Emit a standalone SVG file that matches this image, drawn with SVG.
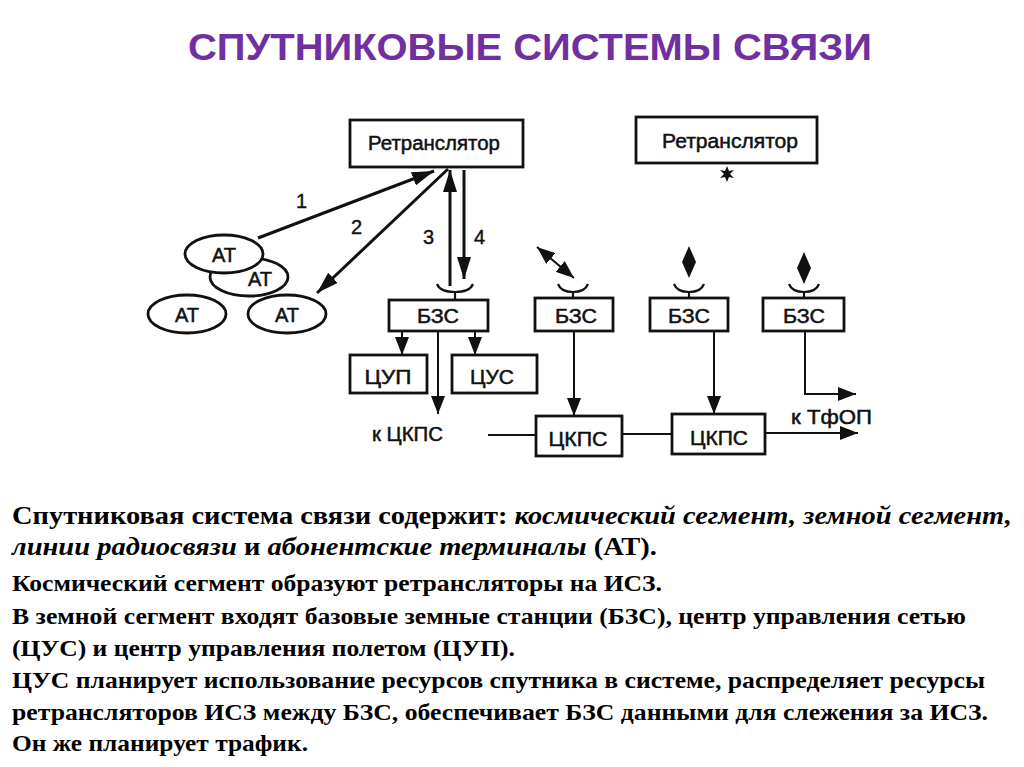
<svg xmlns="http://www.w3.org/2000/svg" width="1024" height="767" viewBox="0 0 1024 767">
<style>
.box{fill:#fff;stroke:#111;stroke-width:2.8}
.ell{fill:#fff;stroke:#111;stroke-width:2.8}
.lbl{font-family:"Liberation Sans",Arial,sans-serif;font-size:20px;fill:#111;stroke:#111;stroke-width:0.5}
.num{font-family:"Liberation Sans",Arial,sans-serif;font-size:20px;fill:#111;stroke:#111;stroke-width:0.4}
.ln{fill:none;stroke:#111;stroke-width:2}
.lnb{fill:none;stroke:#111;stroke-width:3}
.dish{fill:none;stroke:#111;stroke-width:2.2}
.body{font-family:"Liberation Serif","Times New Roman",serif;font-weight:bold;fill:#000}
.it{font-style:italic}
</style>
<defs>
<marker id="big" viewBox="0 0 22 14" markerWidth="22" markerHeight="14" refX="22" refY="7" orient="auto-start-reverse" markerUnits="userSpaceOnUse">
<path d="M0,0 L22,7 L0,14 z" fill="#111"/>
</marker>
<marker id="sm" viewBox="0 0 18 14" markerWidth="18" markerHeight="14" refX="18" refY="7" orient="auto-start-reverse" markerUnits="userSpaceOnUse">
<path d="M0,0 L18,7 L0,14 z" fill="#111"/>
</marker>
</defs>
<rect width="1024" height="767" fill="#fff"/>

<text x="188" y="60" font-family="'Liberation Sans',Arial,sans-serif" font-weight="bold" font-size="37" fill="#7030A0" textLength="684" lengthAdjust="spacingAndGlyphs">СПУТНИКОВЫЕ СИСТЕМЫ СВЯЗИ</text>

<g id="connectors">
<line class="lnb" x1="258" y1="238" x2="434" y2="171" marker-end="url(#big)"/>
<line class="lnb" x1="448" y1="169" x2="317" y2="293" marker-end="url(#big)"/>
<line class="lnb" x1="450" y1="286" x2="450" y2="170" marker-end="url(#big)"/>
<line class="lnb" x1="464" y1="170" x2="464" y2="279" marker-end="url(#big)"/>
<line class="ln" x1="402" y1="331" x2="402" y2="355" marker-end="url(#sm)"/>
<line class="ln" x1="475" y1="331" x2="475" y2="355" marker-end="url(#sm)"/>
<line class="ln" x1="438" y1="331" x2="438" y2="414" marker-end="url(#sm)"/>
<line class="ln" x1="537" y1="247" x2="574" y2="278" marker-start="url(#sm)" marker-end="url(#sm)"/>
<line class="ln" x1="574" y1="331" x2="574" y2="416" marker-end="url(#sm)"/>
<line class="ln" x1="714" y1="331" x2="714" y2="414" marker-end="url(#sm)"/>
<polyline class="ln" points="805,331 805,394 856,394" marker-end="url(#sm)"/>
<line class="ln" x1="488" y1="435" x2="536" y2="435"/>
<line class="ln" x1="622" y1="434" x2="672" y2="434"/>
<line class="ln" x1="765" y1="433" x2="858" y2="433" marker-end="url(#sm)"/>
<polygon points="689,246 696,262 689,278 682,262" fill="#111"/>
<polygon points="804,252 811,268 804,284 797,268" fill="#111"/>
<path d="M727,166 L729,171 L734,170 L730,174 L734,178 L729,177 L727,182 L725,177 L720,178 L724,174 L720,170 L725,171 z" fill="#111"/>
<text class="num" x="296" y="208">1</text>
<text class="num" x="351" y="234">2</text>
<text class="num" x="423" y="244">3</text>
<text class="num" x="474" y="244">4</text>
<text class="lbl" x="372" y="441" font-size="21" textLength="71" lengthAdjust="spacingAndGlyphs">к ЦКПС</text>
<text class="lbl" x="791" y="424" font-size="21" textLength="81" lengthAdjust="spacingAndGlyphs">к ТфОП</text>
</g>

<g id="retr1">
<rect class="box" x="350" y="120" width="173" height="47"/>
<text class="lbl" x="368" y="150" font-size="19" stroke-width="0.3" textLength="132" lengthAdjust="spacingAndGlyphs">Ретранслятор</text>
</g>
<g id="retr2">
<rect class="box" x="636" y="117" width="181" height="46"/>
<text class="lbl" x="662" y="148" font-size="19" stroke-width="0.3" textLength="136" lengthAdjust="spacingAndGlyphs">Ретранслятор</text>
</g>

<g id="at2"><ellipse class="ell" cx="249" cy="277" rx="39" ry="19"/><text class="lbl" x="260" y="286" font-size="21" text-anchor="middle">АТ</text></g>
<g id="at1"><ellipse class="ell" cx="224" cy="254" rx="39" ry="19"/><text class="lbl" x="224" y="262" font-size="21" text-anchor="middle">АТ</text></g>
<g id="at4"><ellipse class="ell" cx="287" cy="314" rx="39" ry="19"/><text class="lbl" x="287" y="322" font-size="21" text-anchor="middle">АТ</text></g>
<g id="at3"><ellipse class="ell" cx="187" cy="314" rx="39" ry="19"/><text class="lbl" x="187" y="322" font-size="21" text-anchor="middle">АТ</text></g>

<g id="bzs1">
<path class="dish" d="M437,284 Q440,292 455,292 Q470,292 473,284 M455,292 L455,300"/>
<rect class="box" x="389" y="300" width="99" height="31"/>
<text class="lbl" x="438" y="323" font-size="21" text-anchor="middle" textLength="42" lengthAdjust="spacingAndGlyphs">БЗС</text>
</g>
<g id="bzs2">
<path class="dish" d="M558,284 Q561,292 573,292 Q585,292 588,284 M573,292 L573,298"/>
<rect class="box" x="535" y="298" width="78" height="33"/>
<text class="lbl" x="576" y="323" font-size="21" text-anchor="middle" textLength="42" lengthAdjust="spacingAndGlyphs">БЗС</text>
</g>
<g id="bzs3">
<path class="dish" d="M674,284 Q677,292 689,292 Q701,292 704,284 M689,292 L689,298"/>
<rect class="box" x="650" y="298" width="78" height="33"/>
<text class="lbl" x="689" y="323" font-size="21" text-anchor="middle" textLength="42" lengthAdjust="spacingAndGlyphs">БЗС</text>
</g>
<g id="bzs4">
<path class="dish" d="M789,284 Q792,292 804,292 Q816,292 819,284 M804,292 L804,298"/>
<rect class="box" x="763" y="298" width="81" height="33"/>
<text class="lbl" x="804" y="323" font-size="21" text-anchor="middle" textLength="42" lengthAdjust="spacingAndGlyphs">БЗС</text>
</g>
<g id="cup">
<rect class="box" x="350" y="355" width="77" height="38"/>
<text class="lbl" x="388" y="384" text-anchor="middle" font-size="23" textLength="47" lengthAdjust="spacingAndGlyphs">ЦУП</text>
</g>
<g id="cus">
<rect class="box" x="452" y="355" width="85" height="38"/>
<text class="lbl" x="492" y="384" text-anchor="middle" font-size="23" textLength="44" lengthAdjust="spacingAndGlyphs">ЦУС</text>
</g>
<g id="ckps1">
<rect class="box" x="536" y="416" width="86" height="40"/>
<text class="lbl" x="578" y="446" text-anchor="middle" font-size="22" textLength="59" lengthAdjust="spacingAndGlyphs">ЦКПС</text>
</g>
<g id="ckps2">
<rect class="box" x="672" y="414" width="93" height="40"/>
<text class="lbl" x="719" y="445" text-anchor="middle" font-size="22" textLength="58" lengthAdjust="spacingAndGlyphs">ЦКПС</text>
</g>

<g id="caption">
<text class="body" x="12" y="524" font-size="25" textLength="1000" lengthAdjust="spacingAndGlyphs">Спутниковая система связи содержит: <tspan class="it">космический сегмент, земной сегмент,</tspan></text>
<text class="body" x="12" y="555" font-size="25" textLength="645" lengthAdjust="spacingAndGlyphs"><tspan class="it">линии радиосвязи</tspan> и <tspan class="it">абонентские терминалы</tspan> (АТ).</text>
<text class="body" x="12" y="591" font-size="24" textLength="650" lengthAdjust="spacingAndGlyphs">Космический сегмент образуют ретрансляторы на ИСЗ.</text>
<text class="body" x="12" y="624" font-size="24" textLength="954" lengthAdjust="spacingAndGlyphs">В земной сегмент входят базовые земные станции (БЗС), центр управления сетью</text>
<text class="body" x="12" y="656" font-size="24" textLength="503" lengthAdjust="spacingAndGlyphs">(ЦУС) и центр управления полетом (ЦУП).</text>
<text class="body" x="12" y="688" font-size="24" textLength="973" lengthAdjust="spacingAndGlyphs">ЦУС планирует использование ресурсов спутника в системе, распределяет ресурсы</text>
<text class="body" x="12" y="720" font-size="24" textLength="976" lengthAdjust="spacingAndGlyphs">ретрансляторов ИСЗ между БЗС, обеспечивает БЗС данными для слежения за ИСЗ.</text>
<text class="body" x="12" y="751" font-size="24" textLength="296" lengthAdjust="spacingAndGlyphs">Он же планирует трафик.</text>
</g>
</svg>
